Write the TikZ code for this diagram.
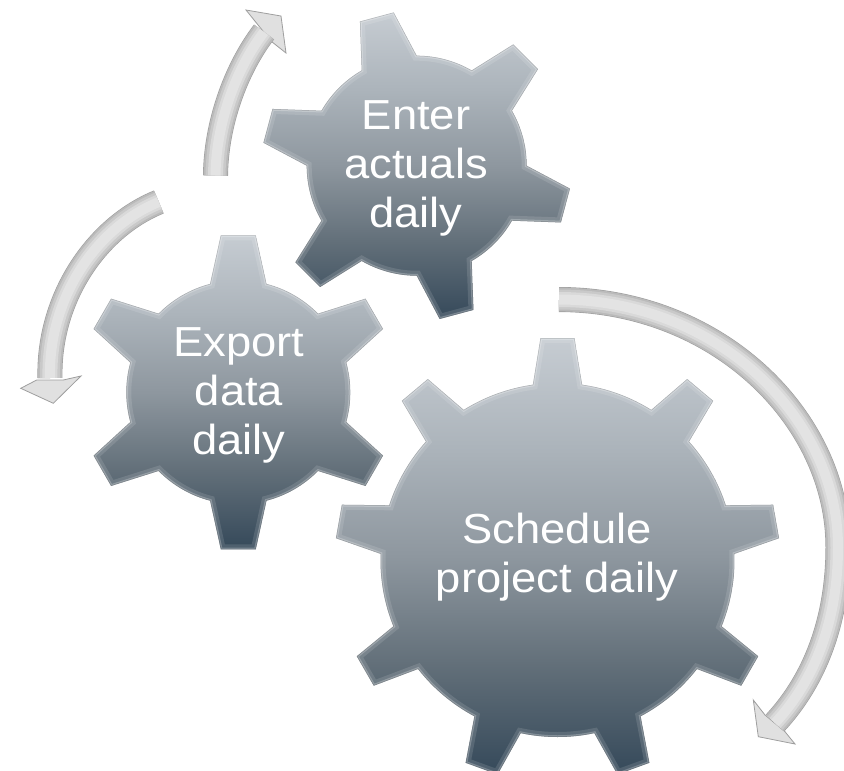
\documentclass[tikz,border=0pt]{standalone}
\usepackage{fontspec}
\setmainfont{Liberation Sans}
\usetikzlibrary{calc}
\definecolor{geara}{HTML}{C6CCD2}
\definecolor{gearb}{HTML}{ACB4BB}
\definecolor{gearc}{HTML}{8E979F}
\definecolor{geard}{HTML}{626F79}
\definecolor{geare}{HTML}{35495A}
\pgfdeclareverticalshading{gearshade}{100bp}{
  color(0bp)=(geare); color(25bp)=(geare); color(37.5bp)=(geard);
  color(50bp)=(gearc); color(62.5bp)=(gearb); color(75bp)=(geara); color(100bp)=(geara)}
\tikzset{
  gearfill/.style={shading=gearshade},
  gearlabel/.style={text=white,align=center,xscale=1.08,transform shape,inner sep=0pt,
    font=\fontsize{42pt}{49pt}\selectfont},
  arrowhead/.style={fill=black!12,draw=black!38,line width=0.8pt,line join=miter}
}
\newcommand\drawgear[8]{% cx cy r R hw baseangle n rot
  \pgfmathsetmacro\gd{atan(#5/#4)}%
  \pgfmathsetmacro\gstep{360/#7}%
  \pgfmathsetmacro\gR{#4/cos(\gd)}%
  \def\gpath{($(#1,#2)+(#8+#6:#3)$)
    \foreach \i [evaluate=\i as \t using #8-(\i-1)*\gstep] in {1,...,#7} {
      -- ($(#1,#2)+(\t+\gd:\gR)$) -- ($(#1,#2)+(\t-\gd:\gR)$)
      -- ($(#1,#2)+(\t-#6:#3)$)
      arc[start angle=\t-#6,end angle=\t-\gstep+#6,radius=#3pt]
    } -- cycle}%
  \shade[gearfill] \gpath;
  \begin{scope}
    \clip \gpath;
    \draw[white,opacity=.12,line width=10pt,line join=miter] \gpath;
    \draw[white,opacity=.25,line width=3.5pt,line join=miter] \gpath;
    \draw[black,opacity=.18,line width=1pt,line join=miter] \gpath;
  \end{scope}
}
\newcommand\bandarrow[2]{% path, width
  \draw[line width=#2pt,color=black!38] #1;
  \draw[line width=#2pt-1.2pt,color=black!27] #1;
  \draw[line width=#2pt-5pt,color=black!21] #1;
  \draw[line width=#2pt-10pt,color=black!15] #1;
  \draw[line width=#2pt-15pt,color=black!11] #1;
}
\begin{document}
\begin{tikzpicture}[x=1pt,y=1pt]
\useasboundingbox (0,0) rectangle (844,-771);
\clip (0,0) rectangle (844,-771);
% gears
\drawgear{416.7}{-165.7}{110}{154}{17.5}{15}{6}{105}
\drawgear{238.3}{-392.3}{112}{157}{17.5}{14.6}{6}{90}
\drawgear{557.5}{-560}{177}{222}{17}{8}{9}{90}
% arrows: top
\coordinate (a1s) at (215.5,-175.5);
\coordinate (a1e) at (264,-32);
\filldraw[arrowhead] (246,-10) -- (281,-16) -- (286,-53) -- (271.7,-41.7) -- (256.7,-23.3) -- cycle;
\bandarrow{(a1s) .. controls (216,-125) and (235,-70) .. (a1e)}{25}
% arrows: left
\coordinate (a2s) at (158.8,-202);
\coordinate (a2e) at (50,-378);
\filldraw[arrowhead] (20.7,-388.3) -- (53.3,-403.3) -- (81,-376) -- (63.3,-380) -- (36.7,-380) -- cycle;
\bandarrow{(a2s) .. controls (95,-228) and (48,-300) .. (a2e)}{25}
% arrows: right
\coordinate (a3s) at (559,-299.5);
\coordinate (a3m) at (838,-547);
\coordinate (a3e) at (775,-723);
\filldraw[arrowhead] (753.3,-700) -- (758.3,-736.7) -- (795,-744) -- (785,-731.7) -- (765,-715) -- cycle;
\bandarrow{(a3s) .. controls (720,-300) and (838,-420) .. (a3m) .. controls (838,-620) and (815,-680) .. (a3e)}{25}
% labels
\node[gearlabel] (enter) at (416,-168) {Enter\\actuals\\daily};
\node[gearlabel] (export) at (239,-395) {Export\\data\\daily};
\node[gearlabel] (schedule) at (557,-557) {Schedule\\project daily};
\end{tikzpicture}
\end{document}
